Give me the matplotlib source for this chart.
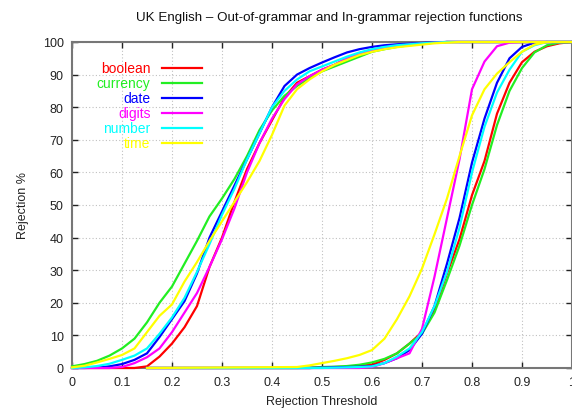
import numpy as np
import matplotlib
matplotlib.use('Agg')
import matplotlib.pyplot as plt

plt.rcParams['font.family'] = ['Liberation Sans', 'DejaVu Sans']

# threshold grids
thr_oog = np.round(np.arange(0, 1.0001, 0.025), 3)
thr_ig = np.concatenate([[0.15], np.round(np.arange(0.45, 1.0001, 0.025), 3)])

names = ['boolean', 'currency', 'date', 'digits', 'number', 'time']
colors = ['#ff0000', '#22ee22', '#0000ff', '#ff00ff', '#00ffff', '#ffff00']

# out-of-grammar rejection % (left family of curves), thresholds 0 .. 1.0
boolean_oog = [0, 0, 0, 0, 0, 0, 0.5, 3.5, 7.5, 12.5, 19, 31, 40, 51, 61, 69, 76, 83, 87.5, 89.5,
               91.5, 93, 95, 96.5, 97.5, 98.2, 98.8, 99.2, 99.5, 99.8, 100, 100, 100, 100, 100, 100,
               100, 100, 100, 100, 100]
currency_oog = [0.5, 1.2, 2.2, 3.8, 6, 9, 14, 20, 25, 32, 39, 46.5, 52, 58, 65, 73, 79, 83.5, 86.5, 89,
                91, 92.5, 94, 95.5, 97, 97.8, 98.5, 99, 99.5, 99.8, 100, 100, 100, 100, 100, 100,
                100, 100, 100, 100, 100]
date_oog = [0, 0, 0.1, 0.5, 1.2, 2.5, 4.5, 9.5, 15, 20.5, 29, 40, 48, 56, 64, 72, 80, 86.5, 90, 92,
            93.7, 95.3, 96.8, 97.8, 98.5, 99, 99.3, 99.5, 99.7, 99.9, 100, 100, 100, 100, 100, 100,
            100, 100, 100, 100, 100]
digits_oog = [0, 0, 0, 0, 0.3, 1.5, 3.3, 6, 11, 17, 23, 31, 39.5, 49, 60, 69, 76.5, 82.5, 87, 89.5,
              91.5, 93, 95, 96.5, 97.5, 98.3, 98.8, 99.2, 99.5, 99.8, 100, 100, 100, 100, 100, 100,
              100, 100, 100, 100, 100]
number_oog = [0, 0.2, 0.6, 1.3, 2.5, 3.8, 6, 10.5, 15.5, 21.5, 29.5, 38, 47, 55, 64, 72, 80, 85, 88.5, 91,
              92.5, 94, 95.5, 96.8, 97.8, 98.5, 99, 99.3, 99.6, 99.8, 100, 100, 100, 100, 100, 100,
              100, 100, 100, 100, 100]
time_oog = [0.2, 0.7, 1.7, 2.8, 4, 6, 11, 16, 19.5, 26.5, 32.5, 39, 45, 51, 57, 63.5, 71.5, 80.5, 85.5, 88.5,
            91, 93, 94.5, 96, 97, 97.8, 98.4, 98.8, 99.2, 99.6, 99.8, 100, 100, 100, 100, 100,
            100, 100, 100, 100, 100]

# in-grammar rejection % (right family of curves), thresholds 0.15, 0.45 .. 1.0
boolean_ig = [0, 0, 0, 0.2, 0.3, 0.4, 0.7, 1, 2.5, 4.5, 7.5, 11, 18, 29, 39.5, 53, 63.5, 78,
              87.5, 93.8, 97, 98.7, 99.6, 100]
currency_ig = [0, 0, 0.1, 0.3, 0.4, 0.6, 1, 1.7, 2.8, 4.5, 7.5, 10.5, 17, 27, 37.5, 50, 61, 74.5,
               85, 92, 96.8, 99, 99.8, 100]
date_ig = [0, 0, 0, 0.1, 0.2, 0.3, 0.4, 0.6, 1.5, 3, 5.5, 10.5, 19, 32, 46, 63, 76.5, 87.5,
           95, 98.5, 99.8, 100, 100, 100]
digits_ig = [0, 0, 0, 0, 0, 0, 0, 0.3, 1.5, 3, 4.5, 12, 28, 46, 64, 85.5, 94, 98.7,
             99.8, 100, 100, 100, 100, 100]
number_ig = [0, 0, 0, 0, 0.1, 0.2, 0.3, 0.5, 1.5, 3.5, 6, 11, 19, 29.5, 43, 60, 74, 84.5,
             91.5, 97, 99, 100, 100, 100]
time_ig = [0, 0.3, 0.8, 1.5, 2.2, 3, 4, 5.5, 9, 15, 22, 30.5, 41, 52, 65, 77.5, 85.5, 90.3,
           93.8, 97, 99.2, 100, 100, 100]

oog = [boolean_oog, currency_oog, date_oog, digits_oog, number_oog, time_oog]
ig = [boolean_ig, currency_ig, date_ig, digits_ig, number_ig, time_ig]

fig = plt.figure(figsize=(5.72, 4.14), dpi=100)
ax = fig.add_axes([72 / 572, 45 / 414, 500 / 572, 326 / 414])

for i in range(len(names)):
    ax.plot(thr_oog, oog[i], color=colors[i], lw=1.6, clip_on=False, zorder=3)
    ax.plot(thr_ig, ig[i], color=colors[i], lw=1.6, clip_on=False, zorder=3)

ax.set_xlim(0, 1)
ax.set_ylim(0, 100)
ax.set_xticks(np.arange(0, 1.01, 0.1))
ax.set_xticklabels(['0', '0.1', '0.2', '0.3', '0.4', '0.5', '0.6', '0.7', '0.8', '0.9', '1'])
ax.set_yticks(np.arange(0, 101, 10))
ax.grid(True, color='#c0c0c0', linestyle=(0, (1, 2)), lw=0.8)
ax.tick_params(direction='in', length=4, width=1, top=True, right=True,
               labelsize=9, colors='#222222', pad=6)
for s in ax.spines.values():
    s.set_color('#777777')
    s.set_linewidth(1.5)

ax.set_xlabel('Rejection Threshold', fontsize=9, color='#222222', labelpad=5)
ax.set_ylabel('Rejection %', fontsize=9, color='#222222', labelpad=10)
fig.text(329 / 572, 1 - 18 / 414, 'UK English \u2013 Out-of-grammar and In-grammar rejection functions',
         ha='center', va='center', fontsize=9.6, color='#111111')

# gnuplot-style key: right-aligned labels, sample line on the right
for i, name in enumerate(names):
    ky = 0.92 - i * 0.046
    ax.text(0.157, ky, name, color=colors[i], ha='right', va='center',
            fontsize=10, transform=ax.transAxes)
    ax.plot([0.18, 0.26], [ky, ky], color=colors[i], lw=1.6, transform=ax.transAxes)

fig.savefig('out.png', dpi=100)
